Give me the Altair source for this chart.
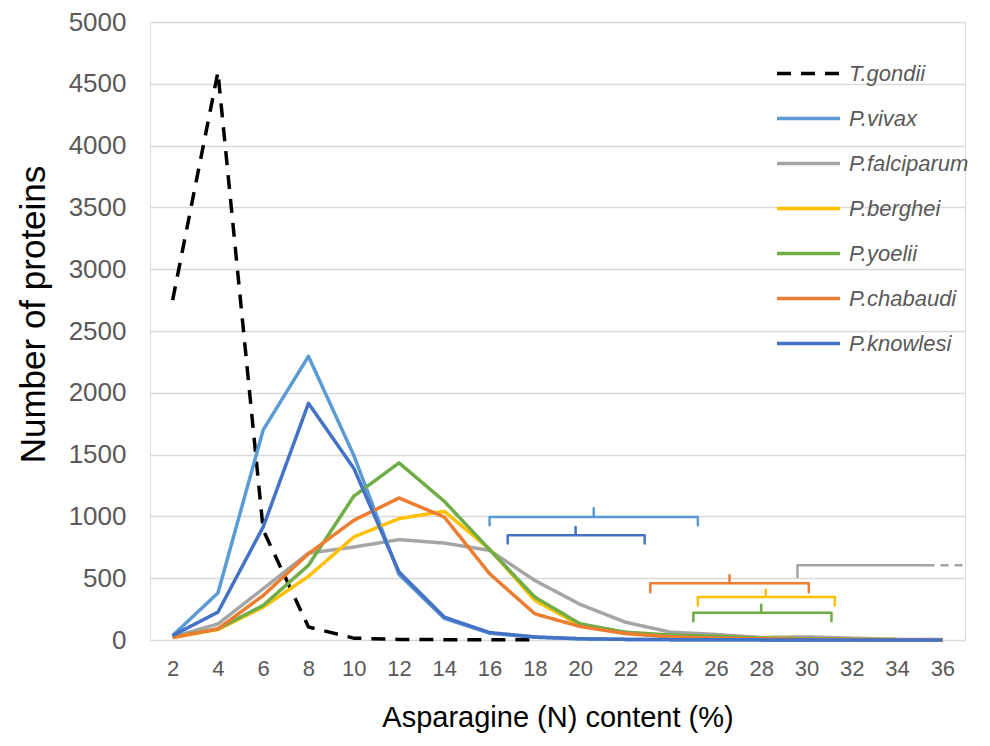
import altair as alt
import pandas as pd

# ---- data ----
x_vals = [2, 4, 6, 8, 10, 12, 14, 16, 18, 20, 22, 24, 26, 28, 30, 32, 34, 36]

series_names = ["T.gondii", "P.vivax", "P.falciparum", "P.berghei",
                "P.yoelii", "P.chabaudi", "P.knowlesi"]
series_colors = ["#000000", "#5B9BD5", "#A5A5A5", "#FFC000",
                 "#70AD47", "#ED7D31", "#4472C4"]

t_gondii = [2750, 4595, 890, 105, 15, 5, 3, 2, 1]
p_vivax = [36, 380, 1700, 2295, 1495, 530, 175, 55, 22, 10, 5, 3, 2, 1, 1, 0, 0, 0]
p_falciparum = [25, 130, 415, 703, 752, 812, 784, 725, 482, 288, 144, 63, 45, 20, 25, 15, 5, 3]
p_berghei = [20, 85, 266, 515, 833, 982, 1041, 735, 320, 120, 60, 35, 25, 15, 10, 5, 3, 1]
p_yoelii = [25, 90, 280, 604, 1163, 1433, 1122, 731, 347, 131, 63, 40, 30, 15, 10, 5, 3, 1]
p_chabaudi = [20, 90, 360, 698, 968, 1149, 995, 536, 212, 109, 52, 25, 15, 10, 5, 3, 2, 1]
p_knowlesi = [36, 225, 915, 1915, 1390, 550, 185, 60, 25, 10, 5, 3, 2, 1, 1, 0, 0, 0]

# bracket annotations: series, left x, right x, centre x, level, end tip, centre tip
br_series = ["P.vivax", "P.knowlesi", "P.chabaudi", "P.berghei", "P.yoelii"]
br_left = [16.0, 16.8, 23.1, 25.2, 25.0]
br_right = [25.2, 22.85, 30.1, 31.25, 31.1]
br_center = [20.6, 19.8, 26.6, 28.2, 28.0]
br_level = [995, 847, 460, 347, 220]
br_end = [928, 780, 387, 280, 152]
br_top = [1065, 914, 523, 407, 285]

# P.falciparum half-bracket (vertical stem then line running off to the right)
fal_x = [29.6, 29.6, 35.3]
fal_y = [509, 604, 604]
fal_tail_x = [35.3, 37.0]
fal_tail_y = [604, 604]

# ---- build tables ----
all_series = [t_gondii, p_vivax, p_falciparum, p_berghei, p_yoelii, p_chabaudi, p_knowlesi]
rows = []
for si, (name, vals) in enumerate(zip(series_names, all_series)):
    for i, v in enumerate(vals):
        rows.append({"series": name, "x": x_vals[i], "y": v, "ord": si})
df = pd.DataFrame(rows)

color_of = dict(zip(series_names, series_colors))
brows = []
for k, name in enumerate(br_series):
    pts = [(br_left[k], br_end[k]), (br_left[k], br_level[k]),
           (br_center[k], br_level[k]), (br_center[k], br_top[k]),
           (br_center[k], br_level[k]), (br_right[k], br_level[k]),
           (br_right[k], br_end[k])]
    for j, (px, py) in enumerate(pts):
        brows.append({"b": name, "x": px, "y": py, "o": j, "col": color_of[name]})
for j, (px, py) in enumerate(zip(fal_x, fal_y)):
    brows.append({"b": "P.falciparum", "x": px, "y": py, "o": j, "col": color_of["P.falciparum"]})
bdf = pd.DataFrame(brows)
tdf = pd.DataFrame({"x": fal_tail_x, "y": fal_tail_y})

FONT = "Liberation Sans"
xscale = alt.Scale(domain=[1, 37], nice=False, zero=False)
yscale = alt.Scale(domain=[0, 5000], nice=False)

xenc = alt.X("x:Q", scale=xscale,
             axis=alt.Axis(values=x_vals, title="Asparagine (N) content (%)",
                           grid=False, ticks=False, domain=False, format="d",
                           labelFontSize=22, labelColor="#595959", labelPadding=18,
                           labelFont=FONT, titleFont=FONT, titleFontSize=29,
                           titleFontWeight="normal", titleColor="#000000",
                           titlePadding=24))
yenc = alt.Y("y:Q", scale=yscale,
             axis=alt.Axis(values=list(range(0, 5001, 500)), title="Number of proteins",
                           grid=True, gridColor="#D9D9D9", gridWidth=1.5,
                           ticks=False, domain=False, format="d",
                           labelFontSize=26, labelColor="#595959", labelPadding=24,
                           labelFont=FONT, titleFont=FONT, titleFontSize=35,
                           titleFontWeight="normal", titleColor="#000000",
                           titlePadding=17, titleY=292))

legend_props = dict(title=None, orient="none", legendX=625, legendY=18,
                    symbolType="stroke", symbolSize=3969,
                    symbolStrokeWidth=3.5, labelFont=FONT,
                    labelFontSize=22, labelFontStyle="italic",
                    labelColor="#595959", labelOffset=7,
                    rowPadding=0)

lines = alt.Chart(df).mark_line(strokeWidth=3.5, strokeJoin="round").encode(
    x=xenc,
    y=yenc,
    color=alt.Color("series:N",
                    scale=alt.Scale(domain=series_names, range=series_colors),
                    legend=alt.Legend(**legend_props)),
    strokeDash=alt.StrokeDash("series:N",
                              scale=alt.Scale(domain=series_names,
                                              range=[[14, 10]] + [[1, 0]] * 6),
                              legend=alt.Legend(**legend_props)),
    order=alt.Order("x:Q"),
    detail="series:N",
)

brackets = alt.Chart(bdf).mark_line(strokeWidth=2.5, strokeJoin="round", strokeCap="round").encode(
    x=alt.X("x:Q", scale=xscale),
    y=alt.Y("y:Q", scale=yscale),
    color=alt.Color("col:N", scale=None),
    detail="b:N",
    order=alt.Order("o:Q"),
)

tail = alt.Chart(tdf).mark_line(strokeWidth=2.5, strokeDash=[8, 6], color="#A5A5A5").encode(
    x=alt.X("x:Q", scale=xscale),
    y=alt.Y("y:Q", scale=yscale),
)

chart = alt.layer(lines, brackets, tail).properties(
    width=815, height=618,
    autosize=alt.AutoSizeParams(type="none"),
    padding={"left": 150, "top": 22, "right": 25, "bottom": 106},
).configure_view(stroke=None).configure(font=FONT)

chart.save("out.html", embed_options={"renderer": "svg", "actions": False})
